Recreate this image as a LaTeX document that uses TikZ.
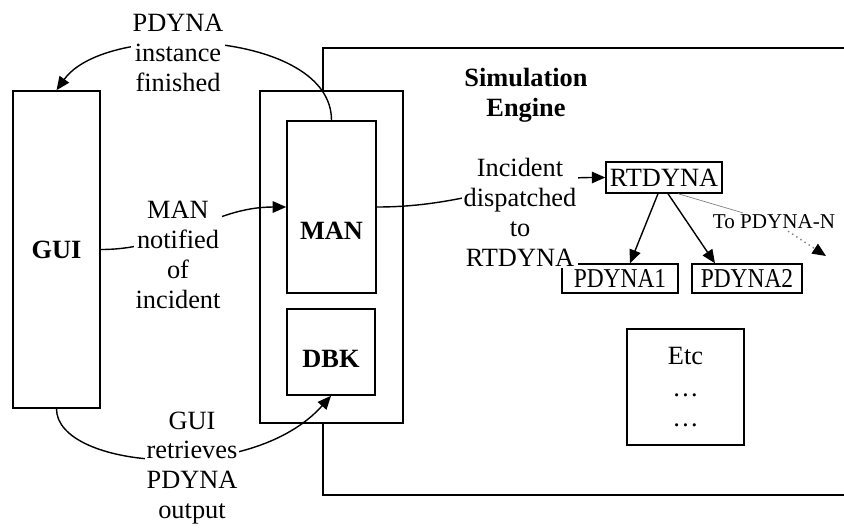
\documentclass[tikz,border=0pt]{standalone}
\usepackage{fontspec}
\setmainfont{Liberation Serif}
\newfontfamily\narrowserif[FakeStretch=0.86]{Liberation Serif}
\usetikzlibrary{arrows.meta}
\tikzset{
  compbox/.style={
    draw,
    line width=0.9pt,
    fill=white,
    inner sep=0pt,
  },
  tagbox/.style={
    draw,
    line width=0.8pt,
    inner xsep=1pt,
    inner ysep=1pt,
  },
  bigtext/.style={font=\fontsize{15}{17}\selectfont},
  boldtext/.style={font=\fontsize{15}{17}\selectfont\bfseries},
  narrowtext/.style={font=\fontsize{15.5}{17}\selectfont\narrowserif},
  notelabel/.style={
    bigtext,
    align=center,
    fill=white,
    inner sep=1pt,
  },
  flow/.style={line width=0.8pt, ->},
}

\begin{document}
\begin{tikzpicture}[>={Triangle[length=0.27cm,width=0.23cm]}]
\useasboundingbox (0,0) rectangle (16.88,-10.58);

% simulation engine, runs off the right edge
\draw[line width=0.9pt] (16.88,-0.96) -- (6.46,-0.96) -- (6.46,-9.9) -- (16.88,-9.9);
\node[boldtext, align=center] (engine) at (10.52,-1.9) {Simulation\\Engine};

\node[compbox, boldtext, minimum width=1.74cm, minimum height=6.34cm] (gui) at (1.13,-4.99) {GUI};
\node[compbox, minimum width=2.86cm, minimum height=6.64cm] (host) at (6.63,-5.14) {};
\node[compbox, minimum width=1.78cm, minimum height=3.44cm,
  label={[boldtext, yshift=-0.48cm]center:MAN}] (man) at (6.63,-4.14) {};
\node[compbox, minimum width=1.76cm, minimum height=1.72cm,
  label={[boldtext, yshift=-0.14cm]center:DBK}] (dbk) at (6.62,-7.04) {};
\node[compbox, bigtext, align=center, minimum width=2.34cm, minimum height=2.32cm] (etc) at (13.71,-7.74) {Etc\\[1pt]\dots\\\dots};

\node[tagbox, bigtext, minimum width=2.32cm, minimum height=0.62cm] (rtdyna) at (13.28,-3.55) {RTDYNA};
\node[tagbox, narrowtext, minimum width=2.32cm, minimum height=0.58cm] (pdynaA) at (12.4,-5.57) {PDYNA1};
\node[tagbox, narrowtext, minimum width=2.2cm, minimum height=0.58cm] (pdynaB) at (14.94,-5.57) {PDYNA2};

% flows between the parts
\draw[flow] (man.north) .. controls +(0,1.8) and +(1.0,1.4) .. (gui.north);
\draw[flow] (gui.east) to[out=0,in=180] (man.west);
\draw[flow] (gui.south) .. controls +(0,-1.2) and +(-1.6,-1.8) .. (dbk.south);
\draw[flow] (man.east) to[out=0,in=180] (rtdyna.west);
\draw[flow] ([xshift=-0.12cm]rtdyna.south) -- ([xshift=0.2cm]pdynaA.north);
\draw[flow] ([xshift=0.08cm]rtdyna.south) -- ([xshift=-0.64cm]pdynaB.north);

\node[notelabel] (finished) at (3.56,-1.06) {PDYNA\\instance\\finished};
\node[notelabel] (notified) at (3.56,-5.1) {MAN\\notified\\of\\incident};
\node[notelabel] (retrieves) at (3.84,-9.36) {GUI\\retrieves\\PDYNA\\output};
\node[notelabel] (dispatched) at (10.4,-4.25) {Incident\\dispatched\\to\\RTDYNA};
\node[notelabel, font=\fontsize{12}{14}\selectfont] (toN) at (15.48,-4.44) {To PDYNA-N};

\coordinate (pdynaN) at (16.52,-5.12);
\draw[thin, gray] ([xshift=0.28cm]rtdyna.south) -- (toN);
\draw[dotted, line width=0.8pt, gray, -{Triangle[length=0.27cm,width=0.23cm,color=black]}] (toN) -- (pdynaN);

\end{tikzpicture}
\end{document}
